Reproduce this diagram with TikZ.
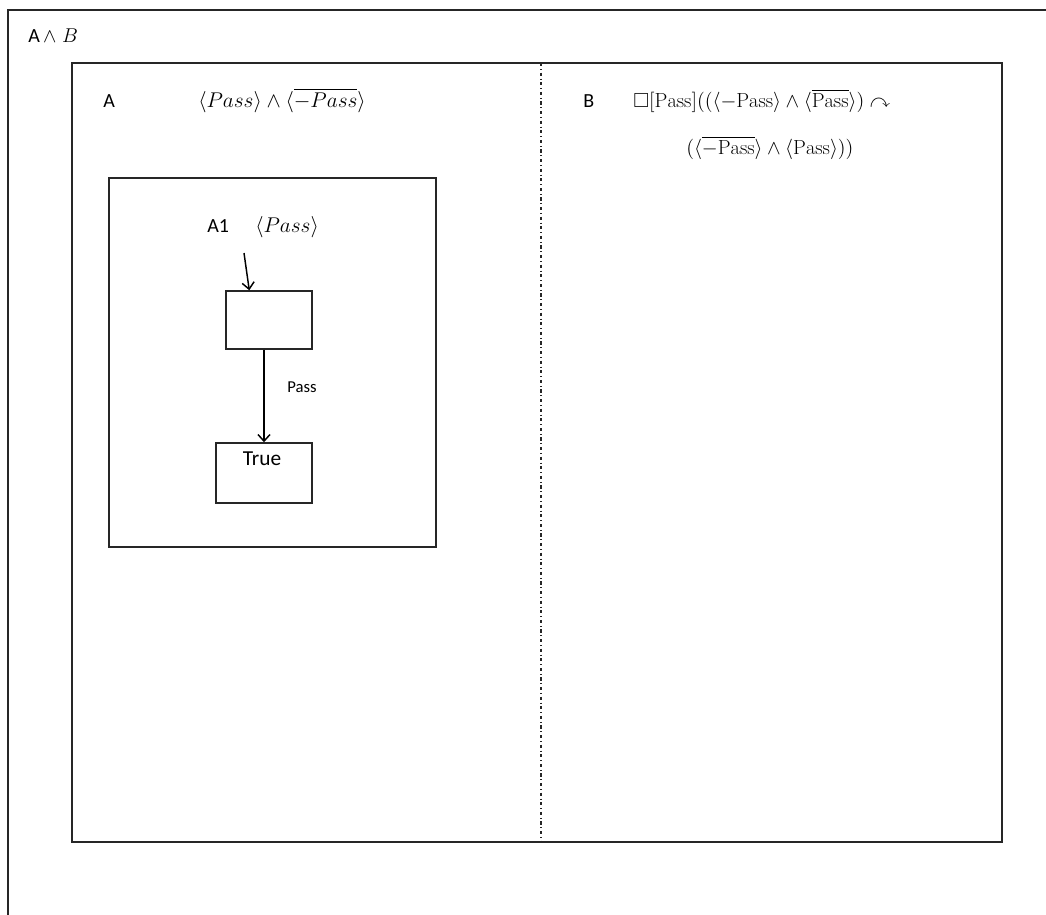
\RequirePackage{fix-cm}
\documentclass[tikz,border=0pt]{standalone}
\usepackage{amssymb}
\usepackage{fontspec}
\setmainfont{Carlito}
\setmathrm{Latin Modern Roman}
\usetikzlibrary{arrows.meta,calc}
\begin{document}
\begin{tikzpicture}[x=0.75pt,y=-0.75pt,
  frame/.style={draw=black!85, line width=1.1pt},
  box/.style={draw=black!85, line width=1.1pt, rectangle, inner sep=0pt},
  lbl/.style={anchor=base west, inner sep=0pt, font=\fontsize{15}{18}\selectfont},
  mth/.style={anchor=base west, inner sep=0pt, font=\fontsize{16}{19}\selectfont},
  mthb/.style={anchor=base west, inner sep=0pt, font=\fontsize{15.3}{18}\selectfont},
  conn/.style={draw=black, line width=1.1pt, -{Straight Barb[length=5pt,width=9pt,line width=1.1pt]}},
  divider/.style={draw=black!85, line width=1.1pt, dash pattern=on 2.4pt off 2.1pt on 0.6pt off 2.1pt}]
\useasboundingbox (0,0) rectangle (1046,914);
\clip (0,0) rectangle (1046,914);
% outer frame (runs off the page at right and bottom)
\draw[frame] (8,10) rectangle (1080,950);
\node[lbl] (ab) at (28,42) {A\,$\wedge\;B$};
% inner frame
\draw[frame] (72,63) rectangle (1002,842);
\coordinate (dtop) at (541,63);
\coordinate (dbot) at (541,842);
\draw[divider] (dtop) -- (dbot);
% part A
\node[lbl] (la) at (103,107) {A};
\node[mth] (fa) at (198,107) {$\langle Pass\rangle \wedge \langle\overline{-Pass}\rangle$};
% part B
\node[lbl] (lb) at (583,107) {B};
\node[mthb] (fb1) at (633,107) {$\square[\mathrm{Pass}]((\langle-\mathrm{Pass}\rangle\wedge\langle\overline{\mathrm{Pass}}\rangle)\curvearrowright$};
\node[mthb] (fb2) at (686,154) {$(\langle\overline{-\mathrm{Pass}}\rangle\wedge\langle\mathrm{Pass}\rangle))$};
% A1 box
\draw[frame] (109,178) rectangle (436,547);
\node[lbl] (la1) at (207,232) {A1};
\node[mth] (fa1) at (255,232) {$\langle Pass\rangle$};
\node[box, minimum width=64.5pt, minimum height=43.5pt] (s0) at (269,320) {};
\node[box, minimum width=72pt, minimum height=45pt] (s1) at (264,473) {};
\node[anchor=base, inner sep=0pt, font=\fontsize{16}{19}\selectfont] (tt) at (262,465) {True};
\coordinate (init) at (244,253);
\draw[conn] (init) -- ($(s0.north west)+(24,0)$);
\draw[conn] (s1.north |- s0.south) -- (s1.north) node[pos=0.46, anchor=base west, inner sep=0pt, xshift=17pt, font=\fontsize{12.5}{15}\selectfont] (pl) {Pass};
\end{tikzpicture}
\end{document}
